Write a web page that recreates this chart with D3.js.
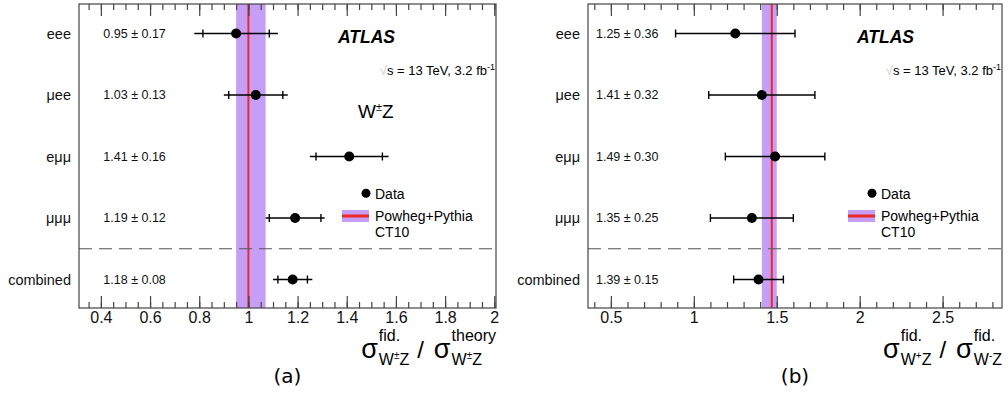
<!DOCTYPE html>
<html>
<head>
<meta charset="utf-8">
<script src="https://cdn.jsdelivr.net/npm/d3@7"></script>
<style>
    body { margin: 0; background: #fff; }
    svg { display: block; font-family: "Liberation Sans", Arial, Helvetica, sans-serif; }
</style>
</head>
<body>
<svg id="chart" width="1008" height="394"></svg>
<script>
// channels, top to bottom
const channels = ['eee', 'μee', 'eμμ', 'μμμ', 'combined'];

// (a) sigma_fid / sigma_theory
const ratioA = [0.95, 1.03, 1.41, 1.19, 1.18];
const totErrA = [0.17, 0.13, 0.16, 0.12, 0.08];
const statErrA = [0.135, 0.11, 0.135, 0.105, 0.06];
const theoryA = 1.0;
const theoryBandA = [0.95, 1.07];
const ticksA = [0.4, 0.6, 0.8, 1, 1.2, 1.4, 1.6, 1.8, 2];

// (b) sigma_fid(W+Z) / sigma_fid(W-Z)
const ratioB = [1.25, 1.41, 1.49, 1.35, 1.39];
const totErrB = [0.36, 0.32, 0.30, 0.25, 0.15];
const statErrB = [0.36, 0.32, 0.30, 0.25, 0.15];
const theoryB = 1.47;
const theoryBandB = [1.41, 1.50];
const ticksB = [0.5, 1, 1.5, 2, 2.5];

const panels = [
    {
        ratio: ratioA, tot: totErrA, stat: statErrA,
        theory: theoryA, band: theoryBandA, ticks: ticksA,
        domain: [0.311, 2.007], minor: 0.05,
        left: 79, right: 496, atlasX: 338, showWZ: true,
        title: [{sup: 'fid.', sub: ['W', '±', 'Z']}, {sup: 'theory', sub: ['W', '±', 'Z']}],
        tag: '(a)'
    },
    {
        ratio: ratioB, tot: totErrB, stat: statErrB,
        theory: theoryB, band: theoryBandB, ticks: ticksB,
        domain: [0.362, 2.858], minor: 0.1,
        left: 588, right: 1002, atlasX: 857, showWZ: false,
        title: [{sup: 'fid.', sub: ['W', '+', 'Z']}, {sup: 'fid.', sub: ['W', '-', 'Z']}],
        tag: '(b)'
    }
];

const frameTop = 4, frameBottom = 308;
const svg = d3.select('#chart');
const fmt = d3.format('.2f');

const y = d3.scalePoint().domain(channels).range([33.5, 279.5]);

function drawTitle(g, parts, xRight, baseY) {
    const t = g.append('g').attr('fill', '#000');
    let x = 0;
    parts.forEach((p, i) => {
        if (i > 0) {
            const s = t.append('text').attr('x', x + 8).attr('y', baseY)
                .style('font-size', '24px').text('/');
            x += 8 + s.node().getComputedTextLength() + 10;
        }
        const m = t.append('text').attr('x', x).attr('y', baseY)
            .style('font-size', '27px').text('σ');
        x += m.node().getComputedTextLength() + 1;
        const sup = t.append('text').attr('x', x).attr('y', baseY - 17)
            .style('font-size', '16px').text(p.sup);
        const sub = t.append('text').attr('x', x).attr('y', baseY + 7)
            .style('font-size', '16px');
        sub.append('tspan').text(p.sub[0]);
        sub.append('tspan').attr('dy', -6).style('font-size', '10px').text(p.sub[1]);
        sub.append('tspan').attr('dy', 6).text(p.sub[2]);
        x += Math.max(sup.node().getComputedTextLength(), sub.node().getComputedTextLength());
    });
    t.attr('transform', 'translate(' + (xRight - x) + ',0)');
}

panels.forEach(p => {
    const g = svg.append('g');
    const x = d3.scaleLinear().domain(p.domain).range([p.left, p.right]);

    // theory band + central line
    g.append('rect')
        .attr('x', x(p.band[0])).attr('y', frameTop)
        .attr('width', x(p.band[1]) - x(p.band[0])).attr('height', frameBottom - frameTop)
        .attr('fill', '#c79ef6');
    g.append('line')
        .attr('x1', x(p.theory)).attr('x2', x(p.theory))
        .attr('y1', frameTop).attr('y2', frameBottom)
        .attr('stroke', '#ec2a2a').attr('stroke-width', 2);

    // separator before combined
    const ySep = (y(channels[3]) + y(channels[4])) / 2;
    g.append('line')
        .attr('x1', p.left).attr('x2', p.right)
        .attr('y1', ySep).attr('y2', ySep)
        .attr('stroke', '#555').attr('stroke-width', 1)
        .attr('stroke-dasharray', '13,7');

    // measurements
    const rows = channels.map((c, i) => ({c, v: p.ratio[i], tot: p.tot[i], stat: p.stat[i]}));
    const pt = g.selectAll('g.pt').data(rows).enter().append('g').attr('class', 'pt');
    pt.append('line')
        .attr('x1', d => x(d.v - d.tot)).attr('x2', d => x(d.v + d.tot))
        .attr('y1', d => y(d.c)).attr('y2', d => y(d.c))
        .attr('stroke', '#000').attr('stroke-width', 1.6);
    [-1, 1].forEach(s => {
        pt.append('line')
            .attr('x1', d => x(d.v + s * d.stat)).attr('x2', d => x(d.v + s * d.stat))
            .attr('y1', d => y(d.c) - 4).attr('y2', d => y(d.c) + 4)
            .attr('stroke', '#000').attr('stroke-width', 1.4);
    });
    pt.append('circle')
        .attr('cx', d => x(d.v)).attr('cy', d => y(d.c)).attr('r', 5)
        .attr('fill', '#000');
    pt.append('text')
        .attr('x', x(0.41)).attr('y', d => y(d.c)).attr('dy', '0.35em')
        .style('font-size', '12.5px').attr('fill', '#111')
        .text(d => fmt(d.v) + ' ± ' + fmt(d.tot));

    // frame
    g.append('rect')
        .attr('x', p.left).attr('y', frameTop)
        .attr('width', p.right - p.left).attr('height', frameBottom - frameTop)
        .attr('fill', 'none').attr('stroke', '#444').attr('stroke-width', 1.2);

    // x axes: major + minor, bottom and top, ticks inward
    const minorTicks = d3.range(Math.ceil(p.domain[0] / p.minor) * p.minor, p.domain[1], p.minor);
    const gb = g.append('g').attr('transform', 'translate(0,' + frameBottom + ')')
        .call(d3.axisBottom(x).tickValues(p.ticks).tickSizeInner(-12).tickSizeOuter(0)
            .tickPadding(4).tickFormat(d3.format('~g')));
    g.append('g').attr('transform', 'translate(0,' + frameBottom + ')')
        .call(d3.axisBottom(x).tickValues(minorTicks).tickSizeInner(-6).tickSizeOuter(0).tickFormat(''));
    g.append('g').attr('transform', 'translate(0,' + frameTop + ')')
        .call(d3.axisTop(x).tickValues(p.ticks).tickSizeInner(-12).tickSizeOuter(0).tickFormat(''));
    g.append('g').attr('transform', 'translate(0,' + frameTop + ')')
        .call(d3.axisTop(x).tickValues(minorTicks).tickSizeInner(-6).tickSizeOuter(0).tickFormat(''));
    g.selectAll('.domain').remove();
    g.selectAll('.tick line').attr('stroke', '#444').attr('stroke-width', 1.2);
    gb.selectAll('.tick text')
        .style('font-size', '16px').style('font-family', '"Liberation Sans", Arial, sans-serif')
        .attr('fill', '#111');

    // channel labels
    const gl = g.append('g').attr('transform', 'translate(' + p.left + ',0)')
        .call(d3.axisLeft(y).tickSize(0).tickPadding(8));
    gl.select('.domain').remove();
    gl.selectAll('.tick text')
        .style('font-size', '14.5px').style('font-family', '"Liberation Sans", Arial, sans-serif')
        .attr('fill', '#111');

    // labels
    g.append('text')
        .attr('x', p.atlasX).attr('y', 42.5)
        .style('font-size', '17.5px').style('font-weight', 'bold').style('font-style', 'italic')
        .text('ATLAS');
    const lum = g.append('text')
        .attr('x', p.right - 1).attr('y', 75).attr('text-anchor', 'end')
        .style('font-size', '13px');
    lum.append('tspan').attr('fill', '#ccc').text('√');
    lum.append('tspan').text('s = 13 TeV, 3.2 fb');
    lum.append('tspan').attr('dy', -5).style('font-size', '9px').text('-1');

    if (p.showWZ) {
        const wz = g.append('text').attr('x', 358).attr('y', 117.5).style('font-size', '19px');
        wz.append('tspan').text('W');
        wz.append('tspan').attr('dy', -7).style('font-size', '11px').text('±');
        wz.append('tspan').attr('dy', 7).text('Z');
    }

    // legend
    g.append('circle').attr('cx', p.right - 130).attr('cy', 193.3).attr('r', 4.5).attr('fill', '#000');
    g.append('text').attr('x', p.right - 121).attr('y', 198.5).style('font-size', '14px').text('Data');
    g.append('rect')
        .attr('x', p.right - 154).attr('y', 210)
        .attr('width', 27).attr('height', 12)
        .attr('fill', '#c79ef6');
    g.append('line')
        .attr('x1', p.right - 154).attr('x2', p.right - 127)
        .attr('y1', 216).attr('y2', 216)
        .attr('stroke', '#ec2a2a').attr('stroke-width', 3);
    g.append('text').attr('x', p.right - 121).attr('y', 221).style('font-size', '14px').text('Powheg+Pythia');
    g.append('text').attr('x', p.right - 121).attr('y', 237).style('font-size', '14px').text('CT10');

    // axis title and panel tag
    drawTitle(g, p.title, p.right, 358);
    g.append('text')
        .attr('x', (p.left + p.right) / 2).attr('y', 383).attr('text-anchor', 'middle')
        .style('font-family', '"DejaVu Sans", sans-serif').style('font-size', '20px')
        .text(p.tag);
});
</script>
</body>
</html>
